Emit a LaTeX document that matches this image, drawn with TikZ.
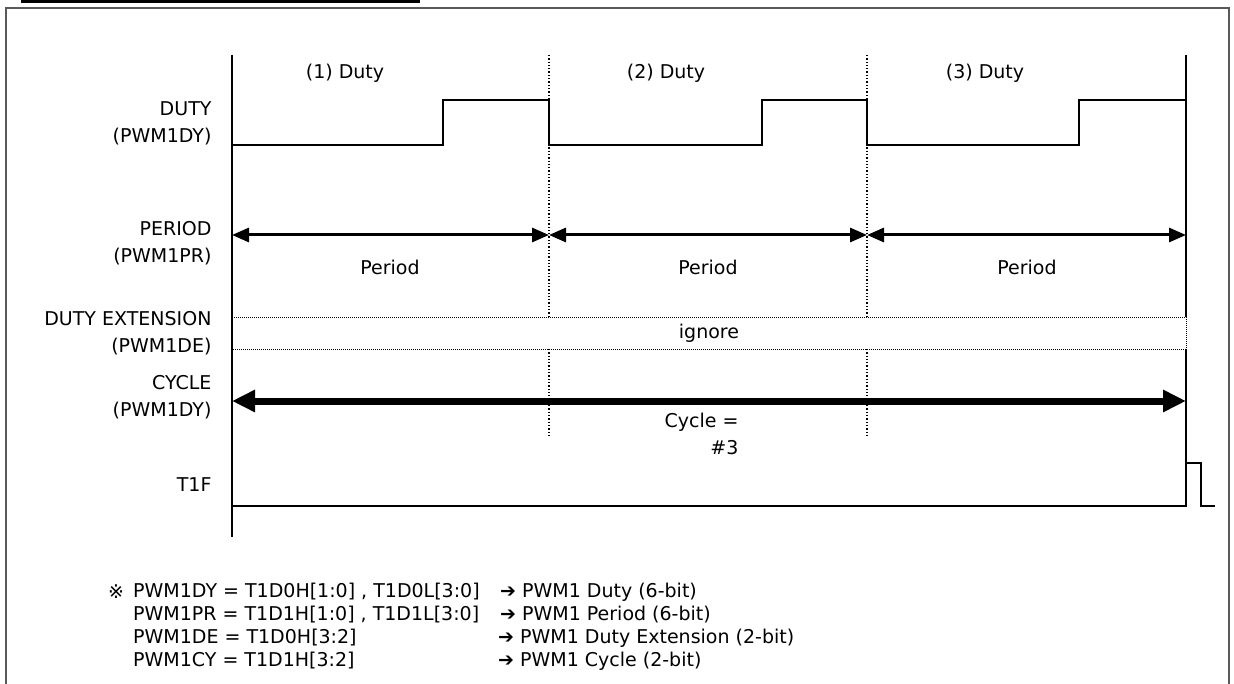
\documentclass[tikz,border=0pt]{standalone}
\usepackage{fontspec}
\setmainfont{DejaVu Sans}
\usepackage{tikz}
\usetikzlibrary{arrows.meta,positioning}

\tikzset{
  sig/.style={line width=2.4pt},
  axis/.style={line width=2pt},
  lbl/.style={anchor=east,align=right},
  note/.style={anchor=west,inner sep=0pt},
  bound/.style={line width=1.3pt,dash pattern=on 1.3pt off 2pt},
  ignbox/.style={line width=0.9pt,dash pattern=on 1pt off 1pt},
  perarrow/.style={line width=3pt,
    {Triangle[length=17pt,width=14pt]}-{Triangle[length=17pt,width=14pt]}},
  cycarrow/.style={line width=7pt,
    {Triangle[length=23pt,width=21pt]}-{Triangle[length=23pt,width=21pt]}},
}
\newcommand{\harr}{\textbf{➔}}

\begin{document}
\begin{tikzpicture}[x=1pt,y=-1pt,font=\fontsize{19}{27}\selectfont]
  \useasboundingbox (0,0) rectangle (1234,684);
  % heading rule and frame
  \draw[line width=4pt] (21,1.5) -- (420,1.5);
  \draw[line width=2pt,black!65] (6,684) -- (6,8.5) -- (1229,8.5) -- (1229,684);

  % period boundaries
  \coordinate (pa) at (232,235);
  \coordinate (pb) at (549,235);
  \coordinate (pc) at (867,235);
  \coordinate (pd) at (1186,235);
  \coordinate (ca) at (232,401);
  \coordinate (cb) at (1186,401);

  % axes
  \draw[axis] (232,55) -- (232,537);
  \draw[axis] (1186,55) -- (1186,317);
  \draw[bound] (549,55) -- (549,317) (549,349) -- (549,437);
  \draw[bound] (867,55) -- (867,317) (867,349) -- (867,437);

  % row labels
  \node[lbl] (lduty) at (215,123.5) {DUTY\\(PWM1DY)};
  \node[lbl] (lper)  at (215,243.5) {PERIOD\\(PWM1PR)};
  \node[lbl] (lext)  at (215,333)   {DUTY EXTENSION\\(PWM1DE)};
  \node[lbl] (lcyc)  at (215,397.5) {CYCLE\\(PWM1DY)};
  \node[lbl] (lt1f)  at (215,485)   {T1F};

  % duty
  \node (d1) at (345,73) {(1) Duty};
  \node (d2) at (666,73) {(2) Duty};
  \node (d3) at (985,73) {(3) Duty};
  \draw[sig] (232,145) -- (443,145) -- (443,100) -- (549,100) -- (549,145)
    -- (762,145) -- (762,100) -- (867,100) -- (867,145)
    -- (1079,145) -- (1079,100) -- (1186,100);

  % period
  \draw[perarrow] (pa) -- (pb);
  \draw[perarrow] (pb) -- (pc);
  \draw[perarrow] (pc) -- (pd);
  \node (per1) at (390,267) {Period};
  \node (per2) at (708,267) {Period};
  \node (per3) at (1027,267) {Period};

  % duty extension
  \draw[ignbox] (232,317) -- (1186,317) -- (1186,349) -- (232,349);
  \node (ign) at (709,333) {ignore};

  % cycle
  \draw[cycarrow] (ca) -- (cb);
  \node[anchor=east,align=right] (cyc) at (742,433.5) {Cycle =\\\#3};

  % t1f
  \draw[axis] (1186,349) -- (1186,463);
  \draw[sig] (232,506) -- (1186,506) -- (1186,463) -- (1201,463)
    -- (1201,506) -- (1215,506);

  % notes
  \node[note] (n0) at (108,592) {※};
  \node[note] (n1) at (133,592) {PWM1DY = T1D0H[1:0] , T1D0L[3:0]};
  \node[note] (n2) at (133,615) {PWM1PR = T1D1H[1:0] , T1D1L[3:0]};
  \node[note] (n3) at (133,638) {PWM1DE = T1D0H[3:2]};
  \node[note] (n4) at (133,661) {PWM1CY = T1D1H[3:2]};
  \node[note] (m1) at (500,592) {\harr{} PWM1 Duty (6-bit)};
  \node[note] (m2) at (500,615) {\harr{} PWM1 Period (6-bit)};
  \node[note] (m3) at (498,638) {\harr{} PWM1 Duty Extension (2-bit)};
  \node[note] (m4) at (498,661) {\harr{} PWM1 Cycle (2-bit)};
\end{tikzpicture}
\end{document}
